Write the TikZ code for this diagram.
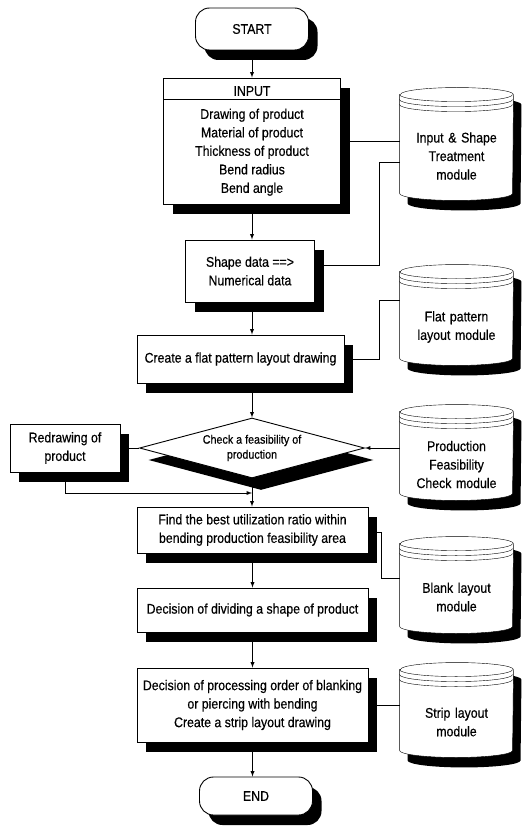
\documentclass[tikz,border=0pt]{standalone}
\usepackage{fontspec}
\setmainfont{Liberation Sans}[FakeStretch=0.88, FakeBold=0.4]
\usepackage{tikz}
\usetikzlibrary{shapes.geometric, arrows, positioning, shadows, backgrounds}

% outline of a module drum, taken from the text node inside it
\newcommand{\drumpath}[1]{([yshift=17pt]#1.north west) -- ([yshift=7pt]#1.south west)
  arc[start angle=180, end angle=360, x radius=56.5pt, y radius=7pt]
  -- ([yshift=17pt]#1.north east)
  arc[start angle=0, end angle=180, x radius=56.5pt, y radius=7pt] -- cycle}

\begin{document}
\begin{tikzpicture}[
    x=1pt, y=-1pt,
    line width=0.9pt,
    every node/.style={font=\fontsize{14}{18.5}\selectfont},
    box/.style={draw, rectangle, fill=white, align=center, inner sep=2pt,
        drop shadow={shadow xshift=9pt, shadow yshift=-10pt, fill=black, opacity=1}},
    term/.style={box, rounded corners=14pt, minimum width=113pt, minimum height=42pt},
    check/.style={draw, diamond, aspect=3.75, inner sep=0pt, fill=white, align=center,
        minimum width=225pt, minimum height=60pt, font=\fontsize{12.2}{15}\selectfont,
        drop shadow={shadow xshift=9pt, shadow yshift=-12pt, fill=black, opacity=1}},
    module/.style={rectangle, minimum width=113pt, text width=104pt, inner sep=0pt, align=center},
    arrow/.style={-latex, draw=black},
    link/.style={draw=black}
]
\useasboundingbox (0,0) rectangle (527,829);

% Main flow
\node[term] (start) at (252,29) {START};
\node[box, minimum width=177pt, minimum height=126pt] (input) at (252,141)
    {INPUT\\[4.5pt] Drawing of product\\ Material of product\\ Thickness of product\\ Bend radius\\ Bend angle};
\node[box, minimum width=129pt, minimum height=62pt] (shape) at (250,271) {Shape data ==>\\ Numerical data};
\node[box, minimum width=207pt, minimum height=48pt] (flat) at (240.5,359) {Create a flat pattern layout drawing};
\node[check] (chk) at (252,448) {Check a feasibility of\\ production};
\node[box, minimum width=110pt, minimum height=48pt] (redraw) at (65,448) {Redrawing of\\ product};
\node[box, minimum width=231pt, minimum height=46pt] (find) at (252.5,530)
    {Find the best utilization ratio within\\ bending production feasibility area};
\node[box, minimum width=231pt, minimum height=44pt] (divide) at (252.5,610) {Decision of dividing a shape of product};
\node[box, minimum width=231pt, minimum height=74pt] (order) at (252.5,705)
    {Decision of processing order of blanking\\ or piercing with bending\\ Create a strip layout drawing};
\node[term, minimum height=38pt] (end) at (256,796) {END};
\draw ([yshift=-22pt]input.north west) -- ([yshift=-22pt]input.north east);

% Modules
\node[module, minimum height=88pt] (ism) at (456.5,156) {Input \& Shape\\ Treatment\\ module};
\node[module, minimum height=76pt] (fpm) at (456.5,327) {Flat pattern\\ layout module};
\node[module, minimum height=71pt] (pfm) at (456.5,464.5) {Production\\ Feasibility\\ Check module};
\node[module, minimum height=72pt] (blm) at (456.5,597) {Blank layout\\ module};
\node[module, minimum height=70pt] (slm) at (456.5,722) {Strip layout\\ module};

\begin{scope}[on background layer]
\foreach \m in {ism,fpm,pfm,blm,slm}{
  \begin{scope}[transform canvas={shift={(8pt,-10pt)}}]
    \fill[black] \drumpath{\m};
  \end{scope}
  \filldraw[fill=white] \drumpath{\m};
  \foreach \d in {17,12,7}
    \draw ([yshift=\d pt]\m.north west) arc[start angle=180, end angle=360, x radius=56.5pt, y radius=7pt];
}
\end{scope}

% Flow arrows
\draw[arrow] (start) -- (input);
\draw[arrow] (input.south) -- (input.south |- shape.north);
\draw[arrow] (shape.south -| input.south) -- (flat.north -| input.south);
\draw[arrow] (flat.south -| chk.north) -- (chk.north);
\draw[arrow] (chk.south) -- (chk.south |- find.north);
\draw[arrow] (find.south) -- (divide.north);
\draw[arrow] (divide.south) -- (order.north);
\draw[arrow] (order.south) -- (order.south |- end.north);

% Feedback
\coordinate (merge) at (252,493);
\draw[link] (redraw.east) -- (chk.west);
\draw[arrow] (redraw.south) |- (merge);

% Module links
\draw[link] (input.east) -- (input.east -| ism.west);
\draw[link] ([yshift=6pt]shape.east) -- (379,265) |- ([yshift=-6pt]ism.west);
\draw[link] (flat.east) -- (379,359) |- ([yshift=27pt]fpm.west);
\draw[arrow] (chk.east -| pfm.west) -- (chk.east);
\draw[link] ([yshift=-2pt]find.east) -- (381,532) |- ([yshift=19pt]blm.west);
\draw[link] (order.east) -- (order.east -| slm.west);
\end{tikzpicture}
\end{document}
